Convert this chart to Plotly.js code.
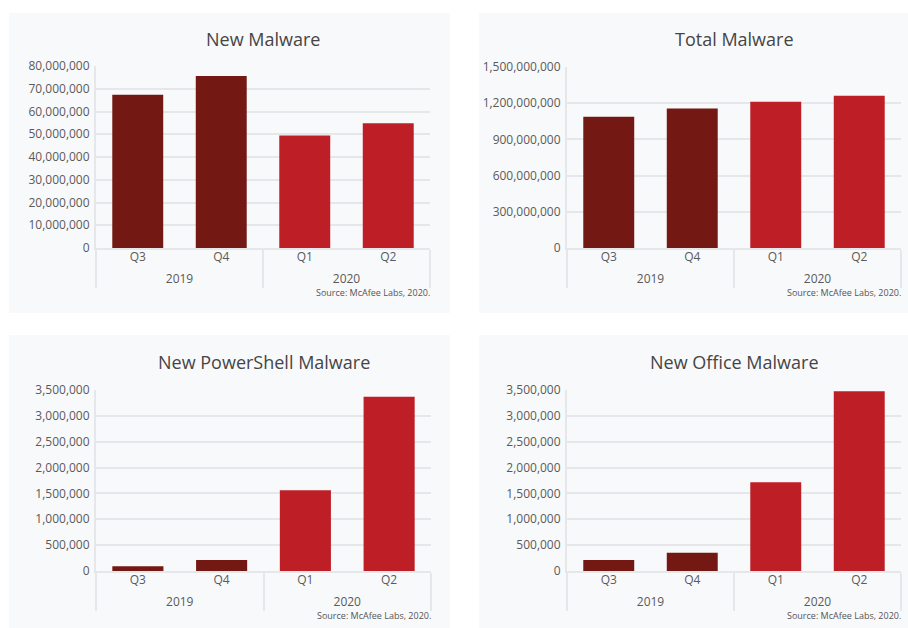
<!DOCTYPE html>
<html>
<head>
<meta charset="utf-8">
<script src="https://cdn.plot.ly/plotly-3.0.1.min.js"></script>
<style>html,body{margin:0;padding:0;background:#fff;}#chart{width:908px;height:628px;}</style>
</head>
<body>
<div id="chart"></div>
<script>
const years = ["2019", "2019", "2020", "2020"];
const quarters = ["Q3", "Q4", "Q1", "Q2"];
const barColors = ["#731813", "#731813", "#be1e25", "#be1e25"];

const newMalware = [67400000, 75600000, 49400000, 54800000];
const totalMalware = [1087000000, 1156000000, 1211000000, 1261000000];
const newPowerShell = [90000, 213000, 1563000, 3371000];
const newOffice = [213000, 355000, 1718000, 3474000];

const titles = ["New Malware", "Total Malware", "New PowerShell Malware", "New Office Malware"];
const sourceText = "Source: McAfee Labs, 2020.";

const W = 908, H = 628;
const panels = [
  {vals: newMalware, range: [0, 80000000], dtick: 10000000, px: [96, 430], py: [66, 248], box: [9, 13, 450, 313], titleY: 39, srcY: 293},
  {vals: totalMalware, range: [0, 1500000000], dtick: 300000000, px: [567, 901], py: [67, 248], box: [479, 13, 908, 313], titleY: 39, srcY: 293},
  {vals: newPowerShell, range: [0, 3500000], dtick: 500000, px: [96, 431], py: [390, 571], box: [9, 335, 450, 628], titleY: 362, srcY: 615},
  {vals: newOffice, range: [0, 3500000], dtick: 500000, px: [567, 901], py: [390, 571], box: [479, 335, 908, 628], titleY: 362, srcY: 615}
];

const bg = "#f8f9fb";
const grid = "#e6e7ea";
const data = [];
const layout = {
  width: W, height: H,
  margin: {l: 0, r: 0, t: 0, b: 0},
  paper_bgcolor: "#ffffff",
  plot_bgcolor: bg,
  showlegend: false,
  font: {family: "Open Sans, sans-serif", color: "#5a5a5a", size: 12},
  bargap: 0.39,
  shapes: [],
  annotations: []
};

panels.forEach((p, i) => {
  const n = i === 0 ? "" : String(i + 1);
  data.push({
    type: "bar",
    x: [years, quarters],
    y: p.vals,
    marker: {color: barColors},
    xaxis: "x" + n, yaxis: "y" + n,
    hoverinfo: "none"
  });
  layout["xaxis" + n] = {
    anchor: "y" + n,
    domain: [p.px[0] / W, p.px[1] / W],
    type: "multicategory",
    showgrid: false,
    showline: true, linecolor: grid, linewidth: 2,
    showdividers: true, dividercolor: grid, dividerwidth: 2,
    tickfont: {size: 12, color: "#5a5a5a"},
    ticklabelstandoff: -3,
    fixedrange: true
  };
  layout["yaxis" + n] = {
    anchor: "x" + n,
    domain: [1 - p.py[1] / H, 1 - p.py[0] / H],
    range: p.range,
    dtick: p.dtick, tick0: 0,
    tickformat: ",d",
    showgrid: true, gridcolor: grid, gridwidth: 2,
    zeroline: false,
    showline: true, linecolor: grid, linewidth: 2,
    tickfont: {size: 12, color: "#5a5a5a"},
    ticklabelstandoff: 2,
    fixedrange: true
  };
  layout.shapes.push({
    type: "rect", xref: "paper", yref: "paper", layer: "below",
    x0: p.box[0] / W, x1: p.box[2] / W,
    y0: 1 - p.box[3] / H, y1: 1 - p.box[1] / H,
    fillcolor: bg, line: {width: 0}
  });
  layout.annotations.push({
    xref: "paper", yref: "paper",
    x: (p.px[0] + p.px[1]) / 2 / W, y: 1 - p.titleY / H,
    xanchor: "center", yanchor: "middle",
    text: titles[i], showarrow: false,
    font: {size: 18, color: "#454545"}
  });
  layout.annotations.push({
    xref: "paper", yref: "paper",
    x: (p.px[1] + 2) / W, y: 1 - p.srcY / H,
    xanchor: "right", yanchor: "middle",
    text: sourceText, showarrow: false,
    font: {size: 9, color: "#555555"}
  });
});

Plotly.newPlot("chart", data, layout, {displayModeBar: false, staticPlot: true});
</script>
</body>
</html>
